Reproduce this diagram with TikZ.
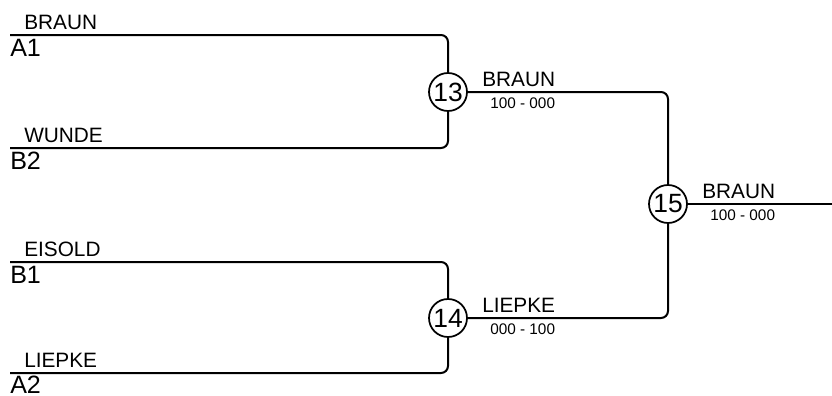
\documentclass[tikz,border=0pt]{standalone}
\usepackage{fontspec}
\setmainfont{Liberation Sans}
\begin{document}
\begin{tikzpicture}[x=0.75pt,y=-0.75pt,
  wire/.style={line width=1.5pt,rounded corners=5.25pt},
  match/.style={circle,draw,line width=1.3pt,minimum size=28.5pt,inner sep=0pt,font=\fontsize{19.8pt}{21pt}\selectfont},
  pname/.style={anchor=base west,inner sep=0pt,font=\fontsize{15.6pt}{17pt}\selectfont},
  seed/.style={anchor=base west,inner sep=0pt,font=\fontsize{18.8pt}{20pt}\selectfont},
  score/.style={anchor=base west,inner sep=0pt,font=\fontsize{11.5pt}{13pt}\selectfont}]
\useasboundingbox (0,0) rectangle (832,396);
% matches
\node[match] (c13) at (448,92) {13};
\node[match] (c14) at (448,318) {14};
\node[match] (c15) at (668,204) {15};
% entry lines
\coordinate (a1) at (10,35);
\coordinate (b2) at (10,148);
\coordinate (b1) at (10,262);
\coordinate (a2) at (10,373);
\coordinate (out) at (832,204);
\draw[wire] (a1) -| (c13);
\draw[wire] (b2) -| (c13);
\draw[wire] (b1) -| (c14);
\draw[wire] (a2) -| (c14);
\draw[wire] (c13) -| (c15);
\draw[wire] (c14) -| (c15);
\draw[wire] (c15) -- (out);
% player names
\node[pname] (n1) at (24,29.5) {BRAUN};
\node[pname] (n2) at (24,142.5) {WUNDE};
\node[pname] (n3) at (24,256.5) {EISOLD};
\node[pname] (n4) at (24,367.5) {LIEPKE};
% seeds
\node[seed] (s1) at (10,56) {A1};
\node[seed] (s2) at (10,169) {B2};
\node[seed] (s3) at (10,283) {B1};
\node[seed] (s4) at (10,393) {A2};
% winners
\node[pname] (w13) at (482,86.5) {BRAUN};
\node[score] (r13) at (490,108) {100 - 000};
\node[pname] (w14) at (482,312.5) {LIEPKE};
\node[score] (r14) at (490,334) {000 - 100};
\node[pname] (w15) at (702,198.5) {BRAUN};
\node[score] (r15) at (710,220) {100 - 000};
\end{tikzpicture}
\end{document}
